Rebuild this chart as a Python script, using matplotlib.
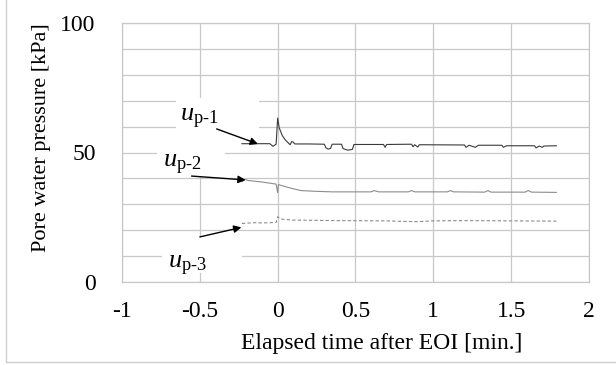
import numpy as np
import matplotlib
matplotlib.use('Agg')
import matplotlib.pyplot as plt
from matplotlib.patches import Rectangle
from matplotlib.lines import Line2D

plt.rcParams['font.family'] = 'Liberation Serif'
plt.rcParams['mathtext.fontset'] = 'custom'
plt.rcParams['mathtext.rm'] = 'Liberation Serif'
plt.rcParams['mathtext.it'] = 'Liberation Serif:italic'

# up-1 readings
t1 = [-0.23, -0.05, -0.03, -0.01, 0.0, 0.01, 0.03, 0.05, 0.07, 0.08, 0.09, 0.1, 0.11, 0.2,
      0.3, 0.31, 0.325, 0.34, 0.35, 0.41, 0.42, 0.45, 0.48, 0.49, 0.68, 0.69, 0.7, 0.86,
      0.87, 0.88, 0.9, 0.91, 1.2, 1.21, 1.23, 1.27, 1.29, 1.44, 1.45, 1.47, 1.65, 1.66,
      1.68, 1.7, 1.71, 1.79]
u1 = [53.4, 53.4, 52.4, 53.2, 63.3, 59.5, 56.5, 54.8, 53.6, 53.0, 54.2, 54.0, 53.3, 53.3,
      53.2, 51.8, 51.3, 51.6, 53.2, 53.2, 51.5, 50.9, 51.2, 53.1, 53.1, 52.0, 53.1, 53.2,
      52.2, 53.0, 52.1, 53.0, 52.9, 52.0, 52.8, 52.0, 52.8, 52.8, 52.0, 52.6, 52.6, 51.8,
      52.5, 52.0, 52.5, 52.6]

# up-2 readings
t2 = [-0.23, -0.21, -0.19, -0.1, -0.01, 0.0, 0.005, 0.05, 0.1, 0.15, 0.25, 0.35, 0.6,
      0.62, 0.65, 0.84, 0.86, 0.88, 1.09, 1.11, 1.13, 1.33, 1.35, 1.37, 1.59, 1.61, 1.63,
      1.79]
u2 = [38.7, 39.6, 39.2, 38.6, 37.8, 34.5, 37.6, 36.8, 36.0, 35.3, 35.0, 34.8, 34.8,
      35.3, 34.8, 34.8, 35.3, 34.8, 34.8, 35.3, 34.8, 34.7, 35.3, 34.7, 34.7, 35.3, 34.7,
      34.6]

# up-3 readings
t3 = [-0.23, -0.15, -0.1, -0.01, 0.0, 0.02, 0.1, 0.4, 0.7, 0.8, 0.9, 1.0, 1.2, 1.5, 1.79]
u3 = [22.6, 22.9, 22.8, 23.0, 25.2, 24.3, 23.9, 23.7, 23.6, 23.4, 23.3, 23.6, 23.7, 23.6,
      23.5]

x_ticks = [-1, -0.5, 0, 0.5, 1, 1.5, 2]
x_tick_labels = ['-1', '-0.5', '0', '0.5', '1', '1.5', '2']
y_ticks = [0, 50, 100]

fig = plt.figure(figsize=(6.16, 3.65), dpi=100)
ax = fig.add_axes([122 / 616, 1 - 282 / 365, 467 / 616, 259 / 365])

grid_c = '#c8c8c8'
ax.set_xlim(-1, 2)
ax.set_ylim(0, 100)
ax.set_xticks(x_ticks)
ax.set_xticklabels(x_tick_labels)
ax.set_yticks(y_ticks)
ax.set_yticks(np.arange(0, 101, 10), minor=True)
ax.grid(True, which='both', color=grid_c, lw=0.9)
ax.set_axisbelow(True)
for s in ax.spines.values():
    s.set_color(grid_c)
    s.set_linewidth(0.9)
ax.tick_params(which='both', length=0)
ax.tick_params(axis='x', labelsize=17, pad=14)
ax.tick_params(axis='y', labelsize=17, pad=19)

# white label boxes hiding the grid (as in the original)
for (x0, x1, y0, y1) in [(-0.656, -0.122, 58.7, 71.0),
                         (-0.778, -0.34, 40.5, 58.7),
                         (-0.74, -0.23, 3.5, 17.4)]:
    ax.add_patch(Rectangle((x0, y0), x1 - x0, y1 - y0, fc='white', ec='none', zorder=1.5))

ax.plot(t1, u1, color='#3a3a3a', lw=0.8, zorder=3)
ax.plot(t2, u2, color='#8c8c8c', lw=0.8, zorder=3)
ax.plot(t3, u3, color='#8c8c8c', lw=0.8, ls=(0, (3, 2)), zorder=3)

arrow = dict(arrowstyle='-|>', color='black', lw=1.0, mutation_scale=11,
             shrinkA=0, shrinkB=0)
ax.annotate('', xy=(-0.127, 53.3), xytext=(-0.392, 59.1), arrowprops=arrow, zorder=4)
ax.annotate('', xy=(-0.206, 39.4), xytext=(-0.553, 40.9), arrowprops=arrow, zorder=4)
ax.annotate('', xy=(-0.233, 21.1), xytext=(-0.5, 17.4), arrowprops=arrow, zorder=4)

ax.text(-0.5, 63.0, r'$u_{\text{p-1}}$', fontsize=19, ha='center', va='center', zorder=4)
ax.text(-0.61, 45.3, r'$u_{\text{p-2}}$', fontsize=19, ha='center', va='center', zorder=4)
ax.text(-0.58, 6.3, r'$u_{\text{p-3}}$', fontsize=19, ha='center', va='center', zorder=4)

ax.set_xlabel('Elapsed time after EOI [min.]', fontsize=17)
ax.xaxis.set_label_coords(0.557, -0.195)
ax.set_ylabel('Pore water pressure [kPa]', fontsize=16)
ax.yaxis.set_label_coords(-0.152, 0.556)

# outer frame (left and bottom edges visible)
fig.add_artist(Line2D([6 / 616, 6 / 616], [1 - 362 / 365, 1], transform=fig.transFigure,
                      color='#d0d0d0', lw=1))
fig.add_artist(Line2D([6 / 616, 1], [1 - 362 / 365, 1 - 362 / 365], transform=fig.transFigure,
                      color='#d0d0d0', lw=1))

fig.savefig('out.png', dpi=100)
